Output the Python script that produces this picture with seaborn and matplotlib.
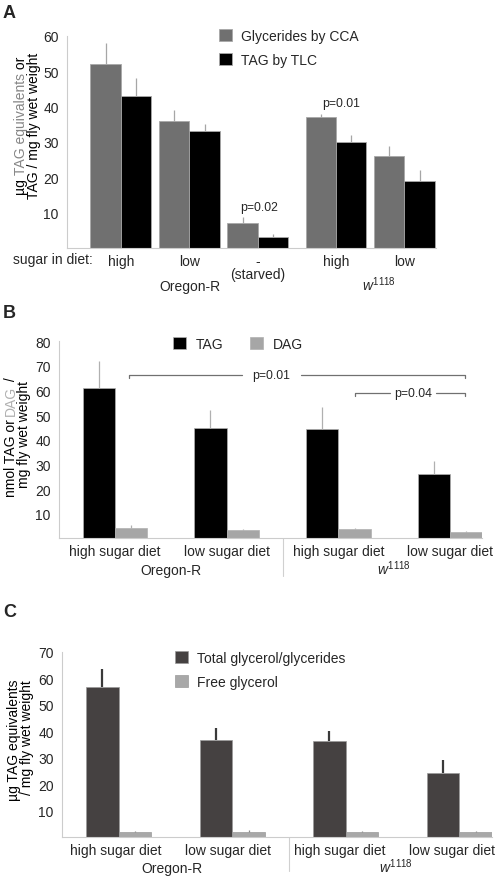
import numpy as np
import pandas as pd
import matplotlib
matplotlib.use("Agg")
import matplotlib.pyplot as plt
import matplotlib.transforms as mtransforms
from matplotlib.patches import Patch
import seaborn as sns

# ---------------- data ----------------
# Panel A
seriesA = ["Glycerides by CCA", "TAG by TLC"]
dietA = ["high", "low", "-\n(starved)", "high", "low"]
strainA = ["Oregon-R", "w1118"]
cca = [52, 36, 7, 37, 26]
cca_err = [6, 3, 1.7, 1, 3]
tlc = [43, 33, 3, 30, 19]
tlc_err = [5, 2, 1.1, 2, 3]
pA_labels = ["p=0.02", "p=0.01"]

# Panel B
seriesB = ["TAG", "DAG"]
dietB = ["high sugar diet", "low sugar diet", "high sugar diet", "low sugar diet"]
groupsB = ["Oregon-R high", "Oregon-R low", "w1118 high", "w1118 low"]
tag = [61, 44.7, 44.4, 26]
tag_err = [11.2, 7.5, 8.9, 5.3]
dag = [4.2, 3.25, 3.7, 2.6]
dag_err = [1.2, 0.55, 0.5, 0.3]
pB_labels = ["p=0.01", "p=0.04"]

# Panel C
seriesC = ["Total glycerol/glycerides", "Free glycerol"]
dietC = ["high sugar diet", "low sugar diet", "high sugar diet", "low sugar diet"]
groupsC = ["Oregon-R high", "Oregon-R low", "w1118 high", "w1118 low"]
total = [56.7, 36.8, 36.2, 24.1]
total_err = [6.8, 4.4, 4.0, 5.0]
free = [1.9, 2.1, 1.9, 1.9]
free_err = [0.5, 0.6, 0.5, 0.5]

# ---------------- style ----------------
sns.set_style("white")
plt.rcParams["font.family"] = ["Liberation Sans", "DejaVu Sans"]
plt.rcParams["mathtext.fontset"] = "custom"
plt.rcParams["mathtext.it"] = "Liberation Sans:italic"
plt.rcParams["mathtext.rm"] = "Liberation Sans"

W, H = 498, 879
fig = plt.figure(figsize=(W / 100, H / 100), dpi=100)
FS = 10
PFS = 8.8
SPINE = "#cccccc"
W1118 = r"$\mathit{w}^{\mathit{1118}}$"


def ax_px(l, t, r, b):
    return fig.add_axes([l / W, 1 - b / H, (r - l) / W, (b - t) / H])


def fx(x):
    return x / W


def fy(y):
    return 1 - y / H


def style_axes(ax, ymax, ytick_step=10):
    for s in ["top", "right"]:
        ax.spines[s].set_visible(False)
    for s in ["left", "bottom"]:
        ax.spines[s].set_color(SPINE)
        ax.spines[s].set_linewidth(0.8)
    ax.set_ylim(0, ymax)
    ax.set_yticks(np.arange(ytick_step, ymax + 1, ytick_step))
    ax.tick_params(axis="y", length=3, width=0.8, color=SPINE, labelsize=10, pad=3)
    ax.tick_params(axis="x", length=0, labelsize=FS, pad=4.2)
    ax.set_xlabel("")
    ax.set_ylabel("")
    ax.grid(False)


def add_err(ax, errs, colors, lws):
    bars = sorted(ax.patches, key=lambda p: p.get_x())
    n = len(errs)
    for i, p in enumerate(bars):
        s, g = i % n, i // n
        cx = p.get_x() + p.get_width() / 2
        h = p.get_height()
        ax.vlines(cx, h, h + errs[s][g], colors=colors[s], lw=lws[s], zorder=3)


renderer = fig.canvas.get_renderer()


def text_width(s, fs):
    t = fig.text(0, 0, s, fontsize=fs)
    w = t.get_window_extent(renderer).width
    t.remove()
    return w


def vlabel(x_base, y_center, pieces, fs=FS):
    full = "".join(p[0] for p in pieces)
    total_w = text_width(full, fs)
    bar_w = text_width("|", fs)
    y0 = y_center + total_w / 2  # bottom (pixel, from top)
    prefix = ""
    for s, c in pieces:
        off = text_width(prefix + "|", fs) - bar_w if prefix else 0
        fig.text(fx(x_base), fy(y0 - off), s, fontsize=fs, color=c, rotation=90,
                 rotation_mode="anchor", ha="left", va="baseline")
        prefix += s


# ---------------- Panel A ----------------
axA = ax_px(67, 37, 436, 249)
posA = [0, 1, 2, 3.14, 4.14]
colA = ["#707070", "#000000"]
dfA = pd.DataFrame({
    "pos": posA * 2,
    "value": cca + tlc,
    "series": [seriesA[0]] * len(cca) + [seriesA[1]] * len(tlc),
})
sns.barplot(data=dfA, x="pos", y="value", hue="series", hue_order=seriesA,
            native_scale=True, width=0.89, palette=colA, saturation=1,
            errorbar=None, legend=False, edgecolor="#a8a8a8", linewidth=0.6, ax=axA)
add_err(axA, [cca_err, tlc_err], ["#a6a6a6", "#a6a6a6"], [0.9, 0.9])
style_axes(axA, 60)
axA.set_xlim(-0.788, 4.6)
axA.set_xticks(posA)
axA.set_xticklabels(dietA)
axA.get_xticklabels()[2].set_linespacing(0.95)
trA = mtransforms.blended_transform_factory(axA.transData, axA.transAxes)
axA.text(1.0, -0.2, strainA[0], transform=trA, ha="center", va="baseline", fontsize=FS)
axA.text(3.76, -0.2, W1118, transform=trA, ha="center", va="baseline", fontsize=FS)
fig.text(fx(13), fy(253), "sugar in diet:", ha="left", va="top", fontsize=FS)
axA.text(2.015, 11.6, pA_labels[0], ha="center", va="center", fontsize=PFS)
axA.text(3.21, 41.0, pA_labels[1], ha="center", va="center", fontsize=PFS)
axA.legend(handles=[Patch(facecolor=colA[0], edgecolor="#a8a8a8", lw=0.6, label=seriesA[0]),
                    Patch(facecolor=colA[1], edgecolor="#a8a8a8", lw=0.6, label=seriesA[1])],
           loc="upper left", bbox_to_anchor=(fx(219), fy(30)), bbox_transform=fig.transFigure,
           frameon=False, fontsize=FS, handlelength=0.95, handleheight=0.95,
           handletextpad=0.6, borderpad=0, borderaxespad=0, labelspacing=0.7)
vlabel(25, 126, [("µg ", "black"), ("TAG equivalents", "#858585"), (" or", "black")])
vlabel(38, 125.5, [("TAG / mg fly wet weight", "black")])
fig.text(fx(3), fy(18), "A", fontsize=13, fontweight="bold", ha="left", va="baseline")

# ---------------- Panel B ----------------
axB = ax_px(59, 342.3, 482, 539.3)
colB = ["#000000", "#a6a6a6"]
dfB = pd.DataFrame({
    "group": groupsB * 2,
    "value": tag + dag,
    "series": [seriesB[0]] * len(tag) + [seriesB[1]] * len(dag),
})
sns.barplot(data=dfB, x="group", y="value", hue="series", hue_order=seriesB,
            order=groupsB, width=0.578, palette=colB, saturation=1,
            errorbar=None, legend=False, edgecolor="#b0b0b0", linewidth=0.5, ax=axB)
add_err(axB, [tag_err, dag_err], ["#b0b0b0", "#b0b0b0"], [0.9, 0.9])
style_axes(axB, 80)
axB.set_xlim(-0.5, 3.285)
axB.set_xticks(range(len(groupsB)))
axB.set_xticklabels(dietB)
trB = mtransforms.blended_transform_factory(axB.transData, axB.transAxes)
axB.text(0.5, -0.181, strainA[0], transform=trB, ha="center", va="baseline", fontsize=FS)
axB.text(2.5, -0.181, W1118, transform=trB, ha="center", va="baseline", fontsize=FS)
axB.plot([1.5, 1.5], [0, -0.191], transform=trB, color="#d0d0d0", lw=0.8, clip_on=False)


def bracket(ax, x0, x1, y, gap0, gap1, label, tick=1.3):
    kw = dict(color="#707070", lw=0.9, clip_on=False)
    ax.plot([x0, x0, gap0], [y - tick, y, y], **kw)
    ax.plot([gap1, x1, x1], [y, y, y - tick], **kw)
    ax.text((gap0 + gap1) / 2, y, label, ha="center", va="center", fontsize=PFS)


bracket(axB, 0.13, 3.13, 66.2, 1.137, 1.665, pB_labels[0])
bracket(axB, 2.15, 3.13, 58.9, 2.462, 2.874, pB_labels[1])
axB.legend(handles=[Patch(facecolor=colB[0], edgecolor="#b0b0b0", lw=0.5, label=seriesB[0]),
                    Patch(facecolor=colB[1], edgecolor="#b0b0b0", lw=0.5, label=seriesB[1])],
           loc="upper left", bbox_to_anchor=(fx(173), fy(338)), bbox_transform=fig.transFigure,
           frameon=False, fontsize=FS, ncol=2, handlelength=0.95, handleheight=0.95,
           handletextpad=0.7, columnspacing=1.9, borderpad=0, borderaxespad=0)
vlabel(15, 437.5, [("nmol TAG or ", "black"), ("DAG", "#b0b0b0"), (" /", "black")])
vlabel(28, 435, [("mg fly wet weight", "black")])
fig.text(fx(3), fy(318), "B", fontsize=13, fontweight="bold", ha="left", va="baseline")

# ---------------- Panel C ----------------
axC = ax_px(62, 652.7, 491.7, 838.3)
colC = ["#454141", "#a8a8a8"]
dfC = pd.DataFrame({
    "group": groupsC * 2,
    "value": total + free,
    "series": [seriesC[0]] * len(total) + [seriesC[1]] * len(free),
})
sns.barplot(data=dfC, x="group", y="value", hue="series", hue_order=seriesC,
            order=groupsC, width=0.576, palette=colC, saturation=1,
            errorbar=None, legend=False, edgecolor="#9a9a9a", linewidth=0.5, ax=axC)
add_err(axC, [total_err, free_err], ["#3a3a3a", "#8a8a8a"], [1.6, 0.9])
style_axes(axC, 70)
axC.set_xlim(-0.5, 3.286)
axC.set_xticks([-0.03, 0.96, 1.945, 2.934])
axC.set_xticklabels(dietC)
trC = mtransforms.blended_transform_factory(axC.transData, axC.transAxes)
axC.text(0.47, -0.185, strainA[0], transform=trC, ha="center", va="baseline", fontsize=FS)
axC.text(2.44, -0.185, W1118, transform=trC, ha="center", va="baseline", fontsize=FS)
axC.plot([1.5, 1.5], [0, -0.183], transform=trC, color="#d0d0d0", lw=0.8, clip_on=False)
axC.legend(handles=[Patch(facecolor=colC[0], edgecolor="#9a9a9a", lw=0.5, label=seriesC[0]),
                    Patch(facecolor=colC[1], edgecolor="#9a9a9a", lw=0.5, label=seriesC[1])],
           loc="upper left", bbox_to_anchor=(fx(175), fy(652)), bbox_transform=fig.transFigure,
           frameon=False, fontsize=FS, handlelength=0.95, handleheight=0.95,
           handletextpad=0.6, borderpad=0, borderaxespad=0, labelspacing=0.7)
vlabel(18, 740, [("µg TAG equivalents", "black")])
vlabel(31.5, 738, [("/ mg fly wet weight", "black")])
fig.text(fx(3), fy(617), "C", fontsize=13, fontweight="bold", ha="left", va="baseline")

fig.savefig("out.png", dpi=100)
